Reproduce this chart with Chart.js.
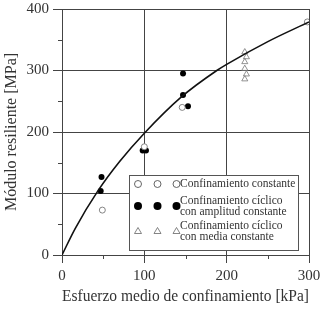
<!DOCTYPE html>
<html>
<head>
<meta charset="utf-8">
<script src="https://cdn.jsdelivr.net/npm/chart.js@4/dist/chart.umd.min.js"></script>
<style>
  html, body { margin: 0; padding: 0; background: #fff; }
  #wrap { width: 322px; height: 316px; }
</style>
</head>
<body>
<div id="wrap"><canvas id="chart"></canvas></div>
<script>
// curve
const curveX = [0, 16, 44, 70, 100, 145, 188, 200, 250, 300];
const curveY = [0, 43, 105, 152, 198, 257, 300, 310, 347, 379];

// Confinamiento constante
const constX = [49, 100, 146, 298];
const constY = [73, 176, 240, 379];

// Confinamiento ciclico con amplitud constante
const amplX = [48, 47, 98, 102, 147, 147, 153];
const amplY = [127, 104, 170, 170, 295, 260, 242];

// Confinamiento ciclico con media constante
const mediaX = [222, 224, 222, 222, 224, 222];
const mediaY = [330, 322, 314, 303, 294, 286];

const xTicks = [0, 100, 200, 300];
const yTicks = [0, 100, 200, 300, 400];
const xMinor = [50, 150, 250];
const yMinor = [50, 150, 250, 350];

const legendLabels = [
  ['Confinamiento constante'],
  ['Confinamiento cíclico', 'con amplitud constante'],
  ['Confinamiento cíclico', 'con media constante']
];

const toPts = (xs, ys) => xs.map((x, i) => ({ x: x, y: ys[i] }));

const SERIF = '"Liberation Serif", "Times New Roman", serif';
const INK = '#333';

// short outward ticks at the half steps
const minorTicks = {
  id: 'minorTicks',
  afterDraw(chart) {
    const { ctx, chartArea: a, scales: { x, y } } = chart;
    ctx.save();
    ctx.strokeStyle = '#444';
    ctx.lineWidth = 1;
    ctx.beginPath();
    xMinor.forEach(v => {
      const px = Math.round(x.getPixelForValue(v)) + 0.5;
      ctx.moveTo(px, a.bottom); ctx.lineTo(px, a.bottom + 4);
    });
    yMinor.forEach(v => {
      const py = Math.round(y.getPixelForValue(v)) + 0.5;
      ctx.moveTo(a.left, py); ctx.lineTo(a.left - 4, py);
    });
    ctx.stroke();
    ctx.restore();
  }
};

// legend box drawn like the original figure
const boxLegend = {
  id: 'boxLegend',
  afterDraw(chart) {
    const { ctx, chartArea: a } = chart;
    const bx = a.left + 67, by = a.top + 166, bw = 169, bh = 75;
    ctx.save();
    ctx.fillStyle = '#fff';
    ctx.fillRect(bx, by, bw, bh);
    ctx.strokeStyle = '#555';
    ctx.lineWidth = 1;
    ctx.strokeRect(bx + 0.5, by + 0.5, bw, bh);

    const rows = [
      { y: by + 9, style: 'open' },
      { y: by + 31, style: 'filled' },
      { y: by + 56, style: 'tri' }
    ];
    const mx = [bx + 9, bx + 28.5, bx + 47.5];
    rows.forEach((r, i) => {
      mx.forEach(cx => {
        ctx.beginPath();
        if (r.style === 'tri') {
          ctx.moveTo(cx, r.y - 3.5);
          ctx.lineTo(cx + 3.5, r.y + 2.5);
          ctx.lineTo(cx - 3.5, r.y + 2.5);
          ctx.closePath();
          ctx.strokeStyle = '#666';
          ctx.lineWidth = 0.8;
          ctx.stroke();
        } else if (r.style === 'open') {
          ctx.arc(cx, r.y, 3.5, 0, Math.PI * 2);
          ctx.strokeStyle = '#555';
          ctx.lineWidth = 0.9;
          ctx.stroke();
        } else {
          ctx.arc(cx, r.y, 4, 0, Math.PI * 2);
          ctx.fillStyle = '#000';
          ctx.fill();
        }
      });
      ctx.fillStyle = INK;
      ctx.font = '11.5px ' + SERIF;
      ctx.textBaseline = 'middle';
      ctx.textAlign = 'left';
      const lines = legendLabels[i];
      lines.forEach((t, k) => {
        const ty = lines.length === 1 ? r.y : r.y - 5.5 + k * 11.5;
        ctx.fillText(t, bx + 51, ty);
      });
    });
    ctx.restore();
  }
};

new Chart(document.getElementById('chart'), {
  type: 'scatter',
  data: {
    datasets: [
      {
        type: 'line',
        data: toPts(curveX, curveY),
        borderColor: '#111',
        borderWidth: 1.6,
        pointRadius: 0,
        cubicInterpolationMode: 'monotone',
        fill: false
      },
      {
        data: toPts(constX, constY),
        pointStyle: 'circle',
        pointRadius: 3,
        backgroundColor: '#fff',
        borderColor: '#777',
        borderWidth: 0.9
      },
      {
        data: toPts(amplX, amplY),
        pointStyle: 'circle',
        pointRadius: 3,
        backgroundColor: '#000',
        borderColor: '#000',
        borderWidth: 0
      },
      {
        data: toPts(mediaX, mediaY),
        pointStyle: 'triangle',
        pointRadius: 3.5,
        backgroundColor: 'rgba(255,255,255,0)',
        borderColor: '#777',
        borderWidth: 0.8
      }
    ]
  },
  options: {
    responsive: true,
    maintainAspectRatio: false,
    animation: false,
    layout: { padding: { top: 9, right: 13, left: 0, bottom: 0 } },
    plugins: { legend: { display: false }, tooltip: { enabled: false } },
    scales: {
      x: {
        type: 'linear',
        min: 0, max: 300,
        afterBuildTicks: s => { s.ticks = xTicks.map(v => ({ value: v })); },
        afterFit: s => { s.height = 61; s.paddingLeft = 0; s.paddingRight = 0; },
        grid: { color: '#444', lineWidth: 1, drawTicks: true, tickLength: 8 },
        border: { color: '#444' },
        ticks: { color: INK, font: { family: SERIF, size: 15 }, padding: 4, maxRotation: 0 },
        title: {
          display: true,
          text: 'Esfuerzo medio de confinamiento [kPa]',
          color: INK,
          font: { family: SERIF, size: 16 },
          padding: { top: 0, bottom: 10 }
        }
      },
      y: {
        type: 'linear',
        min: 0, max: 400,
        afterBuildTicks: s => { s.ticks = yTicks.map(v => ({ value: v })); },
        afterFit: s => { s.width = 62; s.paddingTop = 0; s.paddingBottom = 0; },
        grid: { color: '#444', lineWidth: 1, drawTicks: true, tickLength: 9 },
        border: { color: '#444' },
        ticks: { color: INK, font: { family: SERIF, size: 15 }, padding: 4 },
        title: {
          display: true,
          text: 'Módulo resiliente [MPa]',
          color: INK,
          font: { family: SERIF, size: 16 },
          padding: { top: 2, bottom: 0 }
        }
      }
    }
  },
  plugins: [minorTicks, boxLegend]
});
</script>
</body>
</html>
